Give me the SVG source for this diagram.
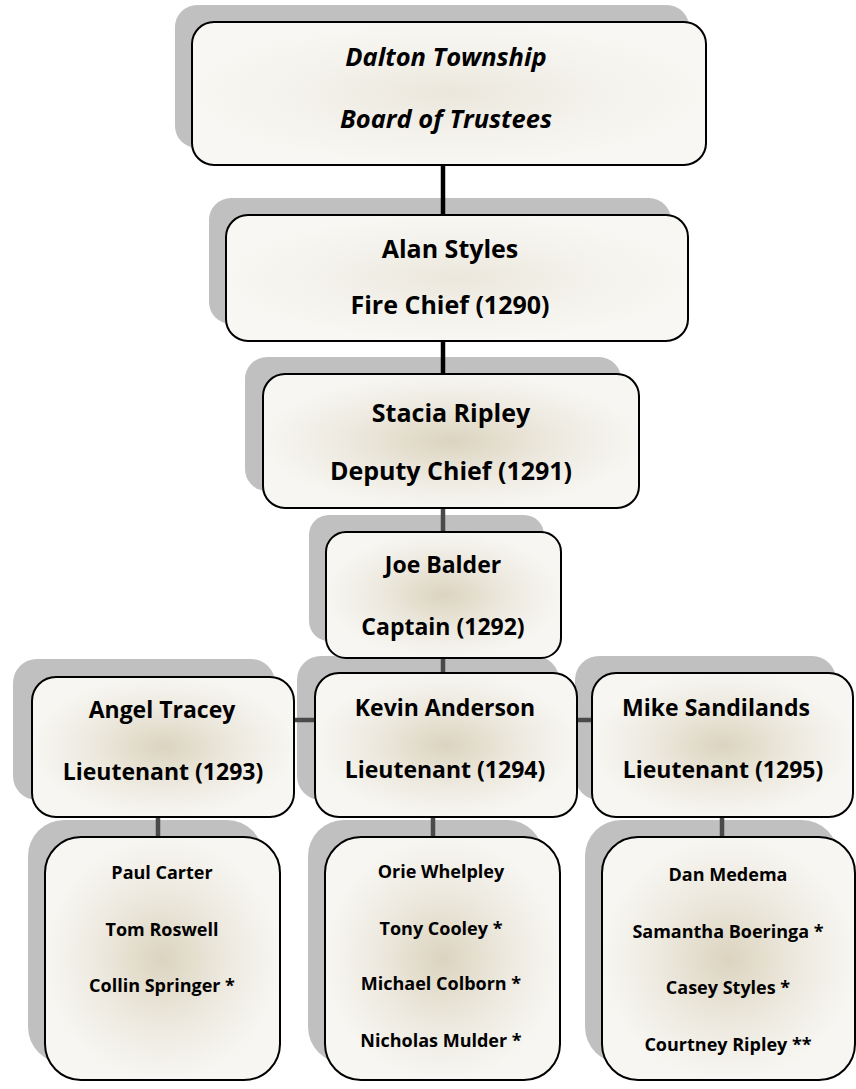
<svg xmlns="http://www.w3.org/2000/svg" width="856" height="1089" viewBox="0 0 856 1089">
<defs>
<radialGradient id="gl" cx="0.5" cy="0.5" r="0.5">
<stop offset="0" stop-color="#ebe7dc"/>
<stop offset="0.6" stop-color="#f4f2ec"/>
<stop offset="1" stop-color="#f8f7f3"/>
</radialGradient>
<radialGradient id="gd" cx="0.5" cy="0.5" r="0.5">
<stop offset="0" stop-color="#dcd4bf"/>
<stop offset="0.55" stop-color="#ede9df"/>
<stop offset="1" stop-color="#f7f6f2"/>
</radialGradient>
<style>
.sh{fill:#c0c0c0}
.bx{stroke:#000;stroke-width:2}
.l{fill:url(#gl)}
.d{fill:url(#gd)}
text{font-family:"Open Sans","Noto Sans",sans-serif;font-weight:bold;fill:#000;text-anchor:middle}
.t1{font-size:25.5px;font-style:italic}
.t2{font-size:25px}
.t3{font-size:23px}
.t4{font-size:18px}
.ck{stroke:#000;stroke-width:4.5;fill:none}
.cg{stroke:#4a4a4a;stroke-width:4.5;fill:none}
</style>
</defs>
<g id="shadows">
<rect class="sh" x="175" y="5" width="514" height="143" rx="22"/>
<rect class="sh" x="209" y="198" width="462" height="126" rx="22"/>
<rect class="sh" x="245" y="357" width="376" height="134" rx="22"/>
<rect class="sh" x="309" y="515" width="235" height="126" rx="20"/>
<rect class="sh" x="13" y="659" width="262" height="141" rx="24"/>
<rect class="sh" x="297" y="656" width="262" height="144" rx="24"/>
<rect class="sh" x="575" y="656" width="261" height="144" rx="24"/>
<rect class="sh" x="28" y="820" width="235" height="243" rx="36"/>
<rect class="sh" x="308" y="820" width="235" height="243" rx="36"/>
<rect class="sh" x="585" y="820" width="253" height="243" rx="36"/>
</g>
<g id="connectors">
<line class="ck" x1="443" y1="160" x2="443" y2="216"/>
<line class="ck" x1="443" y1="336" x2="443" y2="375"/>
<line class="cg" x1="443" y1="503" x2="443" y2="533"/>
<line class="cg" x1="443" y1="655" x2="443" y2="674"/>
<line class="cg" x1="290" y1="720" x2="596" y2="720"/>
<line class="cg" x1="158" y1="812" x2="158" y2="838"/>
<line class="cg" x1="433" y1="812" x2="433" y2="838"/>
<line class="cg" x1="722" y1="812" x2="722" y2="838"/>
</g>
<g id="n1">
<rect class="bx l" x="192" y="22" width="514" height="143" rx="22"/>
<text class="t1" x="446" y="66">Dalton Township</text>
<text class="t1" x="446" y="128">Board of Trustees</text>
</g>
<g id="n2">
<rect class="bx l" x="226" y="215" width="462" height="126" rx="22"/>
<text class="t2" x="450" y="258">Alan Styles</text>
<text class="t2" x="450" y="314">Fire Chief (1290)</text>
</g>
<g id="n3">
<rect class="bx d" x="263" y="374" width="376" height="134" rx="22"/>
<text class="t2" x="451" y="422">Stacia Ripley</text>
<text class="t2" x="451" y="480">Deputy Chief (1291)</text>
</g>
<g id="n4">
<rect class="bx d" x="326" y="532" width="235" height="126" rx="20"/>
<text class="t3" x="443" y="573">Joe Balder</text>
<text class="t3" x="443" y="635">Captain (1292)</text>
</g>
<g id="n5">
<rect class="bx d" x="32" y="677" width="262" height="140" rx="24"/>
<text class="t3" x="162" y="718">Angel Tracey</text>
<text class="t3" x="163" y="780">Lieutenant (1293)</text>
</g>
<g id="n6">
<rect class="bx d" x="315" y="673" width="262" height="144" rx="24"/>
<text class="t3" x="445" y="716">Kevin Anderson</text>
<text class="t3" x="445" y="778">Lieutenant (1294)</text>
</g>
<g id="n7">
<rect class="bx d" x="592" y="673" width="261" height="144" rx="24"/>
<text class="t3" x="716" y="716">Mike Sandilands</text>
<text class="t3" x="723" y="778">Lieutenant (1295)</text>
</g>
<g id="n8">
<rect class="bx d" x="45" y="837" width="235" height="243" rx="36"/>
<text class="t4" x="162" y="879">Paul Carter</text>
<text class="t4" x="162" y="936">Tom Roswell</text>
<text class="t4" x="162" y="992">Collin Springer *</text>
</g>
<g id="n9">
<rect class="bx d" x="325" y="837" width="235" height="243" rx="36"/>
<text class="t4" x="441" y="878">Orie Whelpley</text>
<text class="t4" x="441" y="935">Tony Cooley *</text>
<text class="t4" x="441" y="990">Michael Colborn *</text>
<text class="t4" x="441" y="1047">Nicholas Mulder *</text>
</g>
<g id="n10">
<rect class="bx d" x="602" y="837" width="253" height="243" rx="36"/>
<text class="t4" x="728" y="881">Dan Medema</text>
<text class="t4" x="728" y="938">Samantha Boeringa *</text>
<text class="t4" x="728" y="994">Casey Styles *</text>
<text class="t4" x="728" y="1051">Courtney Ripley **</text>
</g>
</svg>
